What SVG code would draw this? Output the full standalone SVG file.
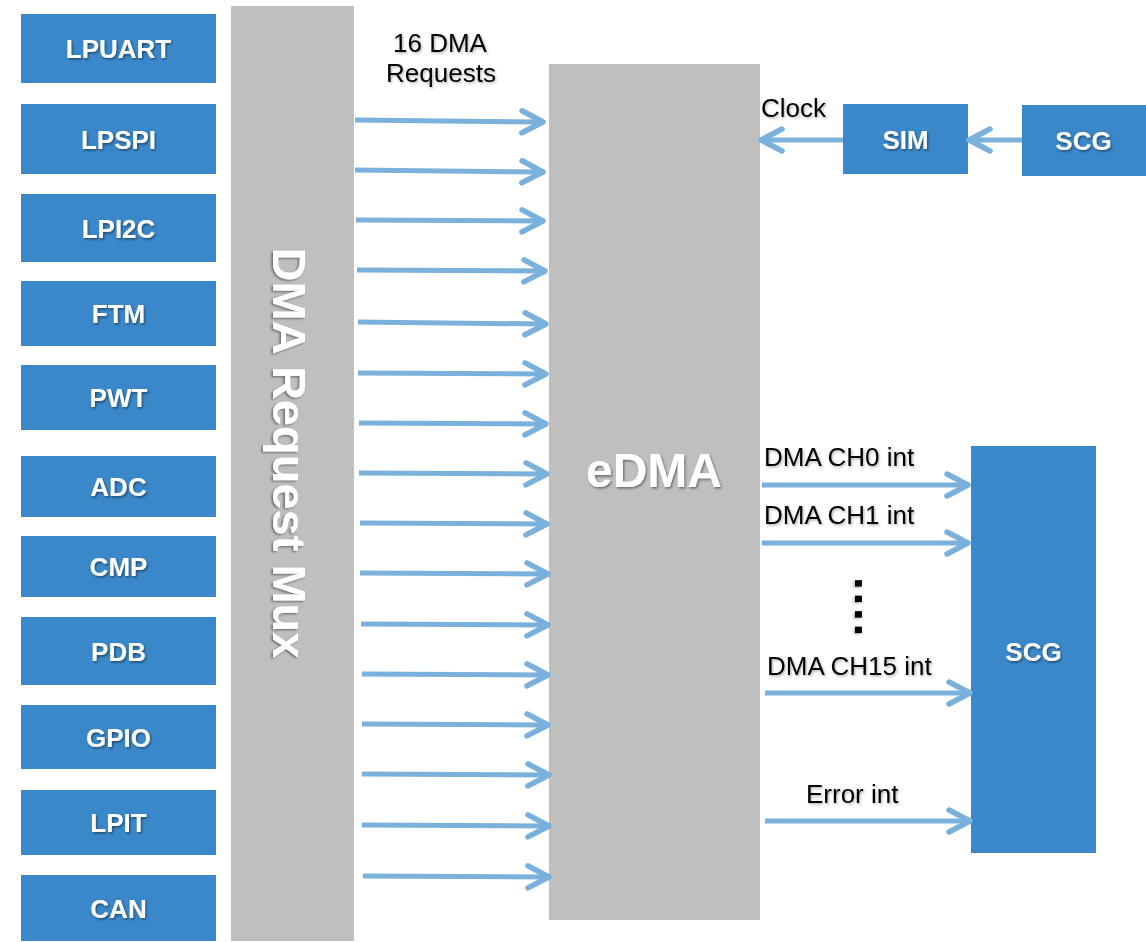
<svg xmlns="http://www.w3.org/2000/svg" width="1146" height="942" viewBox="0 0 1146 942">
<style>
.box{fill:#3A88C9}
.gray{fill:#BFBFBF}
.lbl{font-family:"Liberation Sans",Arial,sans-serif;font-weight:bold;font-size:26px;fill:#fff;text-anchor:middle;filter:url(#sw)}
.big{font-family:"Liberation Sans",Arial,sans-serif;font-weight:bold;fill:#fff;text-anchor:middle;filter:url(#sw)}
.txt{font-family:"Liberation Sans",Arial,sans-serif;font-size:26px;fill:#000;filter:url(#sb)}
.dots{font-family:"Liberation Sans",Arial,sans-serif;font-size:46px;font-weight:bold;fill:#000;letter-spacing:2.7px;filter:url(#sb)}
.ar{stroke:#7AB0DC;stroke-width:5;fill:none;marker-end:url(#ah)}
</style>
<defs>
<filter id="sw" x="-20%" y="-20%" width="140%" height="140%"><feDropShadow dx="1.2" dy="1.5" stdDeviation="0.8" flood-color="#000" flood-opacity="0.45"/></filter>
<filter id="sb" x="-20%" y="-20%" width="140%" height="140%"><feDropShadow dx="1.2" dy="1.5" stdDeviation="1" flood-color="#000" flood-opacity="0.3"/></filter>
<marker id="ah" markerUnits="userSpaceOnUse" markerWidth="40" markerHeight="40" refX="0" refY="0" orient="auto" overflow="visible">
<path d="M -19 -11 L 2 0 L -19 11" fill="none" stroke="#7AB0DC" stroke-width="5.5" stroke-linecap="round" stroke-linejoin="round"/>
</marker>
</defs>
<rect width="1146" height="942" fill="#fff"/>

<g id="mux"><rect class="gray" x="231" y="6" width="123" height="935"/>
<text class="big" font-size="47" transform="translate(273,453) rotate(90)">DMA Request Mux</text></g>
<g id="edma"><rect class="gray" x="549" y="64" width="211" height="856"/>
<text class="big" font-size="48" x="654" y="487">eDMA</text></g>

<g id="lpuart"><rect class="box" x="21" y="14" width="195" height="69"/><text class="lbl" x="118.5" y="58">LPUART</text></g>
<g id="lpspi"><rect class="box" x="21" y="104" width="195" height="70"/><text class="lbl" x="118.5" y="148.5">LPSPI</text></g>
<g id="lpi2c"><rect class="box" x="21" y="194" width="195" height="68"/><text class="lbl" x="118.5" y="237.5">LPI2C</text></g>
<g id="ftm"><rect class="box" x="21" y="281" width="195" height="65"/><text class="lbl" x="118.5" y="323">FTM</text></g>
<g id="pwt"><rect class="box" x="21" y="365" width="195" height="65"/><text class="lbl" x="118.5" y="407">PWT</text></g>
<g id="adc"><rect class="box" x="21" y="456" width="195" height="61"/><text class="lbl" x="118.5" y="496">ADC</text></g>
<g id="cmp"><rect class="box" x="21" y="536" width="195" height="61"/><text class="lbl" x="118.5" y="576">CMP</text></g>
<g id="pdb"><rect class="box" x="21" y="617" width="195" height="68"/><text class="lbl" x="118.5" y="660.5">PDB</text></g>
<g id="gpio"><rect class="box" x="21" y="705" width="195" height="64"/><text class="lbl" x="118.5" y="746.5">GPIO</text></g>
<g id="lpit"><rect class="box" x="21" y="790" width="195" height="65"/><text class="lbl" x="118.5" y="832">LPIT</text></g>
<g id="can"><rect class="box" x="21" y="875" width="195" height="66"/><text class="lbl" x="118.5" y="917.5">CAN</text></g>

<g id="sim"><rect class="box" x="843" y="104" width="125" height="70"/><text class="lbl" x="905.5" y="148.5">SIM</text></g>
<g id="scg-top"><rect class="box" x="1022" y="105" width="124" height="71"/><text class="lbl" x="1083.5" y="149.5">SCG</text></g>
<g id="scg-int"><rect class="box" x="971" y="446" width="125" height="407"/><text class="lbl" x="1033.5" y="661">SCG</text></g>

<g id="labels">
<text class="txt" x="440" y="52" text-anchor="middle">16 DMA</text>
<text class="txt" x="441" y="82" text-anchor="middle">Requests</text>
<text class="txt" x="761" y="117">Clock</text>
<text class="txt" x="764" y="466">DMA CH0 int</text>
<text class="txt" x="764" y="524">DMA CH1 int</text>
<text class="txt" x="767" y="675">DMA CH15 int</text>
<text class="txt" x="806" y="803">Error int</text>
<text class="dots" transform="translate(855,577) rotate(90)">....</text>
</g>

<g id="connectors">
<path class="ar" d="M355 120 L541 122"/>
<path class="ar" d="M355 170 L541 172"/>
<path class="ar" d="M356 220 L541 221"/>
<path class="ar" d="M357 270 L543 271"/>
<path class="ar" d="M358 322 L544 324"/>
<path class="ar" d="M358 373 L544 374"/>
<path class="ar" d="M359 423 L544 424"/>
<path class="ar" d="M359 473 L545 474"/>
<path class="ar" d="M360 523 L545 524"/>
<path class="ar" d="M360 573 L546 574"/>
<path class="ar" d="M361 624 L546 625"/>
<path class="ar" d="M362 674 L546 675"/>
<path class="ar" d="M362 724 L546 725"/>
<path class="ar" d="M362 774 L547 775"/>
<path class="ar" d="M362 825 L547 826"/>
<path class="ar" d="M363 876 L547 877"/>
<path class="ar" d="M843 140 L763 140"/>
<path class="ar" d="M1022 140 L971 140"/>
<path class="ar" d="M762 485 L966 485"/>
<path class="ar" d="M762 543 L966 543"/>
<path class="ar" d="M765 693 L968 693"/>
<path class="ar" d="M765 821 L968 821"/>
</g>
</svg>
